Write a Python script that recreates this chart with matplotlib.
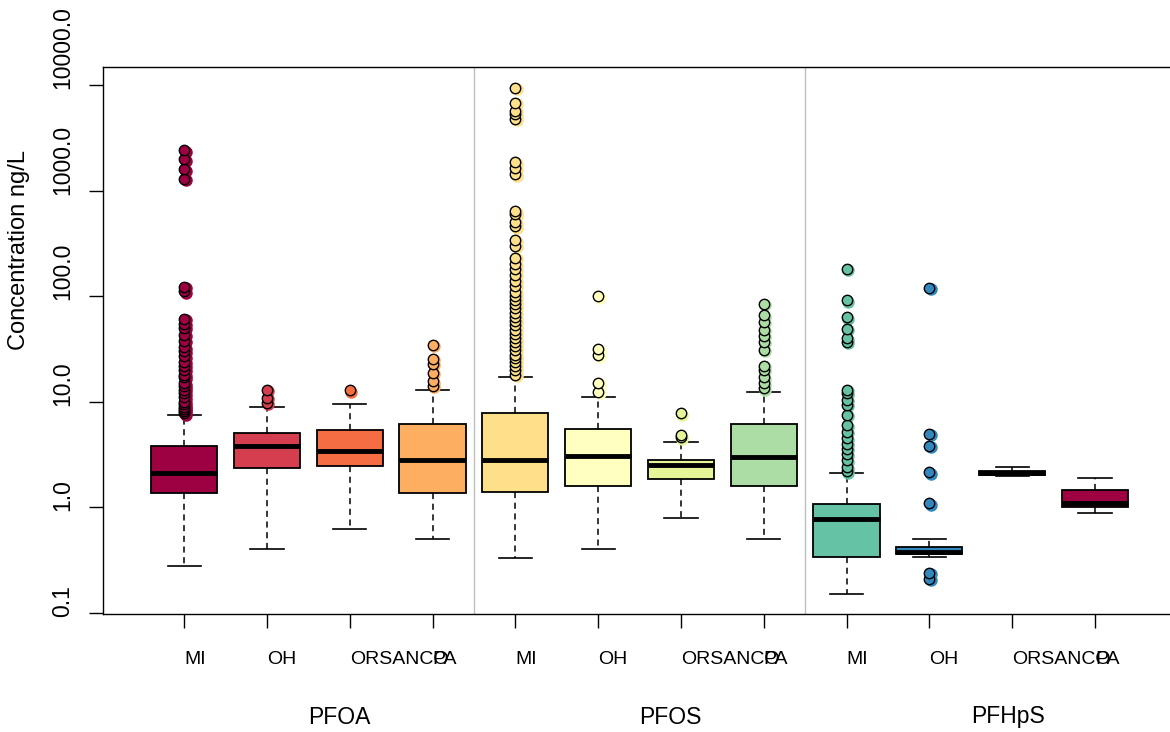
import matplotlib
matplotlib.use("Agg")
import matplotlib.pyplot as plt
import matplotlib.transforms as mtransforms

plt.rcParams['font.family'] = ['Liberation Sans', 'DejaVu Sans']

# box statistics (ng/L)
states = ["MI", "OH", "ORSANCO", "PA"]
compounds = ["PFOA", "PFOS", "PFHpS"]

whislo = [0.28, 0.40, 0.63, 0.50, 0.33, 0.40, 0.80, 0.50, 0.15, 0.34, 1.98, 0.88]
q1 = [1.38, 2.35, 2.45, 1.38, 1.40, 1.58, 1.85, 1.58, 0.34, 0.36, 2.02, 1.00]
med = [2.10, 3.85, 3.45, 2.80, 2.80, 3.10, 2.50, 3.00, 0.78, 0.38, 2.12, 1.10]
q3 = [3.80, 5.05, 5.40, 6.10, 7.80, 5.50, 2.80, 6.10, 1.07, 0.42, 2.22, 1.45]
whishi = [7.5, 9.0, 9.6, 12.9, 17.0, 11.2, 4.2, 12.3, 2.1, 0.50, 2.42, 1.90]

fliers = [
    [7.8, 8.2, 8.6, 9.0, 9.5, 10, 11, 12, 13, 14, 15, 17, 18, 20, 22, 24, 27,
     30, 33, 38, 43, 50, 55, 61, 111, 123, 1300, 1590, 1980, 2400],
    [9.8, 10.9, 13.0],
    [12.9],
    [14.2, 15.6, 18.8, 22.8, 25.5, 34.5],
    [18, 20, 22, 24, 26, 28, 31, 34, 37, 40, 44, 48, 53, 58, 63, 70, 78, 85,
     92, 100, 110, 125, 140, 160, 180, 200, 230, 300, 340, 460, 500, 600, 640,
     1430, 1620, 1850, 4800, 5300, 5700, 6800, 9400],
    [12.5, 15.2, 27.5, 31.5, 100],
    [4.6, 4.8, 7.8],
    [13.5, 15, 17, 20, 22, 31, 37, 42, 48, 57, 66, 85],
    [2.2, 2.4, 2.8, 3.2, 3.6, 4.0, 4.5, 5.2, 6.0, 7.5, 9.4, 10.5, 12.1, 13.0,
     37, 40, 49, 63, 92, 182],
    [0.21, 0.24, 1.1, 2.15, 3.85, 5.0, 120],
    [],
    [],
]

colors = ["#9E0142", "#D53E4F", "#F46D43", "#FDAE61", "#FEE08B", "#FFFFBF",
          "#E6F598", "#ABDDA4", "#66C2A5", "#3288BD", "#5E4FA2", "#9E0142"]

W, H = 1170, 732
fig = plt.figure(figsize=(W / 100, H / 100), dpi=100)
ax = fig.add_axes([103 / W, (H - 614) / H, 1075 / W, 547 / H])

stats = []
for i in range(len(med)):
    stats.append(dict(whislo=whislo[i], q1=q1[i], med=med[i], q3=q3[i],
                      whishi=whishi[i], fliers=fliers[i]))

positions = list(range(1, len(med) + 1))
bp = ax.bxp(stats, positions=positions, widths=0.8, patch_artist=True,
            boxprops=dict(edgecolor="black", linewidth=1.3),
            medianprops=dict(color="black", linewidth=3.5, solid_capstyle="butt"),
            whiskerprops=dict(color="black", linewidth=1.1, linestyle=(0, (4, 3))),
            capprops=dict(color="black", linewidth=1.2),
            capwidths=0.4)

for i, box in enumerate(bp["boxes"]):
    box.set_facecolor(colors[i])

# coloured smear just behind each outlier, then the outlined point
shadow = mtransforms.offset_copy(ax.transData, fig=fig, x=1.5, y=-1.5, units="dots")
for i, fl in enumerate(bp["fliers"]):
    fl.set(marker="o", markerfacecolor=colors[i], markeredgecolor="black",
           markersize=7.5, markeredgewidth=1.0, zorder=4)
    if fliers[i]:
        ax.plot([positions[i]] * len(fliers[i]), fliers[i], "o", color=colors[i],
                markersize=8, transform=shadow, zorder=3)

ax.set_yscale("log")
ax.set_ylim(10 ** (-1 - 1 / 105.8), 10 ** (4 + 18 / 105.8))
ax.set_xlim(0.02, 0.02 + 1075 / 82.8)

for xv in [4.5, 8.5]:
    ax.axvline(xv, color="#BEBEBE", linewidth=1.0, zorder=0)

yt = [0.1, 1, 10, 100, 1000, 10000]
ax.set_yticks(yt)
ax.set_yticklabels([])
ax.yaxis.set_minor_locator(matplotlib.ticker.NullLocator())
ax.tick_params(axis="y", length=10, width=1)
ylab_off = mtransforms.offset_copy(ax.get_yaxis_transform(), fig=fig,
                                   x=0, y=-4, units="dots")
for v in yt:
    ax.text((63 - 103) / 1075, v, "%.1f" % v, transform=ylab_off, rotation=90,
            rotation_mode="anchor", ha="left", va="center", fontsize=16.5,
            clip_on=False)

ax.set_xticks(positions)
ax.set_xticklabels([])
ax.tick_params(axis="x", length=10, width=1)

trans = mtransforms.blended_transform_factory(ax.transData, ax.transAxes)
for i, p in enumerate(positions):
    ax.text(p, -(660 - 614) / 547, states[i % 4], transform=trans,
            ha="left", va="center", fontsize=14)
for j, c in enumerate(compounds):
    ax.text(2.5 + 4 * j, -(717 - 614) / 547, c, transform=trans,
            ha="left", va="center", fontsize=16.5)

ax.text((19 - 103) / 1075, (350 - 614) / -547, "Concentration ng/L",
        transform=ax.transAxes, rotation=90, rotation_mode="anchor",
        ha="left", va="center", fontsize=17)

for s in ax.spines.values():
    s.set_linewidth(1.0)

fig.savefig("out.png", dpi=100)
